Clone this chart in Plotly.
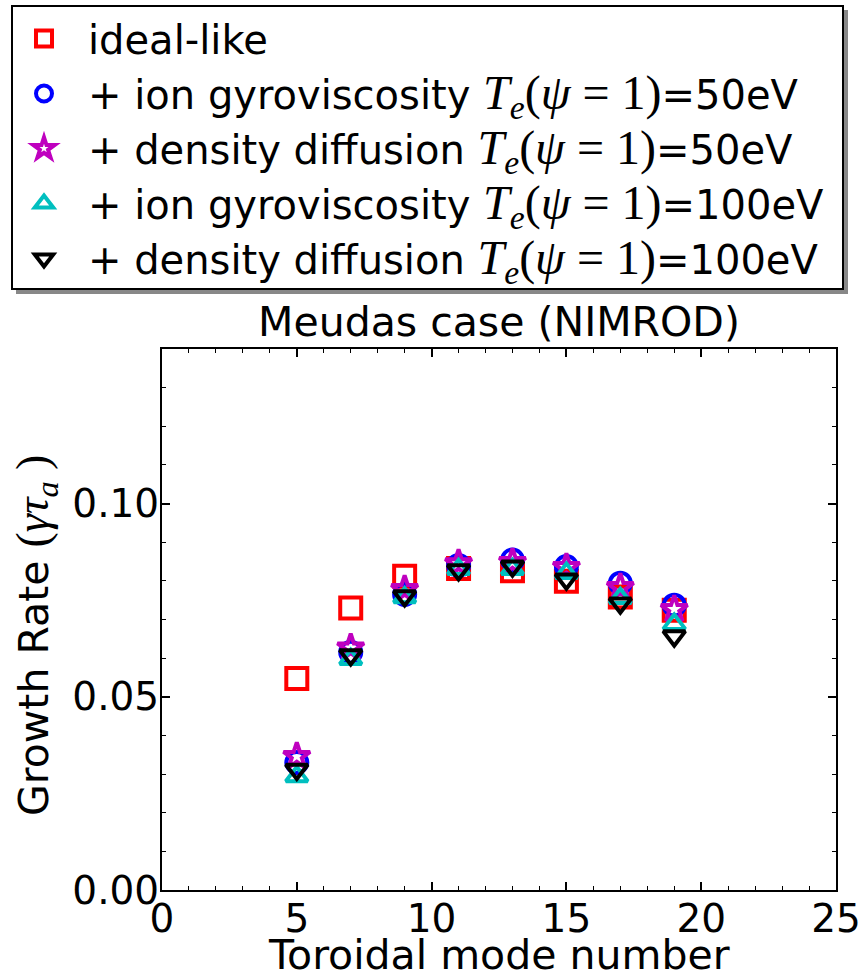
import plotly.graph_objects as go

# ---------------- data ----------------
n_mode = [5, 7, 9, 11, 13, 15, 17, 19]
ideal_like = [0.0547, 0.0730, 0.0812, 0.0832, 0.0826, 0.0799, 0.0758, 0.0724]
gyro_50 = [0.0330, 0.0615, 0.0765, 0.0840, 0.0854, 0.0837, 0.0794, 0.0737]
diff_50 = [0.0346, 0.0627, 0.0778, 0.0845, 0.0848, 0.0835, 0.0783, 0.0726]
gyro_100 = [0.0294, 0.0597, 0.0757, 0.0830, 0.0830, 0.0820, 0.0755, 0.0688]
diff_100 = [0.0312, 0.0608, 0.0761, 0.0828, 0.0838, 0.0804, 0.0742, 0.0657]

MATH = ("<span style=\"font-family:Liberation Serif;font-size:48px\"><i>T</i><sub><i>e</i></sub>"
        "(<i>ψ</i> = 1)</span>")
labels = [
    "ideal-like",
    "+ ion gyroviscosity " + MATH + "=50eV",
    "+ density diffusion " + MATH + "=50eV",
    "+ ion gyroviscosity " + MATH + "=100eV",
    "+ density diffusion " + MATH + "=100eV",
]
series = [ideal_like, gyro_50, diff_50, gyro_100, diff_100]
symbols = ["square-open", "circle-open", "star-open", "triangle-up-open", "triangle-down-open"]
colors = ["#FF0000", "#0000FF", "#BF00BF", "#00BFBF", "#000000"]
sizes = [21, 21, 20, 19, 19]

x_title = "Toroidal mode number"
y_title = ("Growth Rate <span style=\"font-family:Liberation Serif;font-size:46px\">(<i>γτ</i>"
           "<sub><i>a</i></sub> )</span>")
chart_title = "Meudas case (NIMROD)"

W, H = 867, 979
PL, PR, PT, PB = 162, 836, 349, 890  # plot-area pixel box

fig = go.Figure()
for i, (lab, ys, sym, col, sz) in enumerate(zip(labels, series, symbols, colors, sizes)):
    fig.add_trace(go.Scatter(
        x=n_mode, y=ys, mode="markers", name=lab, legendgroup=f"g{i}",
        marker=dict(symbol=sym, size=sz, color=col, line=dict(width=4, color=col)),
    ))

# paper-coordinate helpers for decorations placed outside the plot area
def px2paper_x(px):
    return (px - PL) / (PR - PL)

def px2paper_y(py):
    return (PB - py) / (PB - PT)

# legend shadow + box
fig.add_shape(type="rect", xref="paper", yref="paper",
              x0=px2paper_x(16), x1=px2paper_x(848), y0=px2paper_y(294), y1=px2paper_y(10),
              fillcolor="#888888", line=dict(width=0), layer="above")
fig.add_shape(type="rect", xref="paper", yref="paper",
              x0=px2paper_x(12), x1=px2paper_x(843), y0=px2paper_y(289), y1=px2paper_y(6),
              fillcolor="white", line=dict(width=2, color="black"), layer="above")

# axis titles as annotations
fig.add_annotation(text=x_title, xref="paper", yref="paper",
                   x=0.5, y=px2paper_y(955), xanchor="center", yanchor="middle",
                   showarrow=False, font=dict(size=41, family="DejaVu Sans", color="black"))
fig.add_annotation(text=y_title, xref="paper", yref="paper", textangle=-90,
                   x=px2paper_x(36), y=px2paper_y(636), xanchor="center", yanchor="middle",
                   showarrow=False, font=dict(size=41, family="DejaVu Sans", color="black"))

axis_common = dict(
    showline=True, linewidth=2, linecolor="black", mirror="allticks",
    ticks="inside", ticklen=8, tickwidth=1.5, tickcolor="black",
    showgrid=False, zeroline=False, automargin=False,
    tickfont=dict(family="DejaVu Sans", size=39, color="black"),
)

fig.update_layout(
    width=W, height=H,
    margin=dict(l=PL, r=W - PR, t=PT, b=H - PB, autoexpand=False),
    paper_bgcolor="white", plot_bgcolor="white",
    font=dict(family="DejaVu Sans", color="black"),
    title=dict(text=chart_title, x=0.5, xref="paper", xanchor="center",
               y=1 - 322 / H, yref="container", yanchor="middle",
               font=dict(size=41, family="DejaVu Sans", color="black")),
    xaxis=dict(range=[0, 25], tick0=0, dtick=5, ticklabelstandoff=-7,
               minor=dict(dtick=1, ticks="inside", ticklen=4, tickwidth=1.2, tickcolor="black"),
               **axis_common),
    yaxis=dict(range=[0, 0.14], tick0=0, dtick=0.05, tickformat=".2f", ticklabelstandoff=-7,
               minor=dict(dtick=0.01, ticks="inside", ticklen=4, tickwidth=1.2, tickcolor="black"),
               **axis_common),
    legend=dict(xref="container", yref="container", x=0, y=1 - 6 / H,
                xanchor="left", yanchor="top", bgcolor="rgba(0,0,0,0)", borderwidth=0,
                font=dict(size=40, family="DejaVu Sans", color="black"),
                tracegroupgap=0, itemwidth=78),
    showlegend=True,
)

fig.write_html("out.html")
